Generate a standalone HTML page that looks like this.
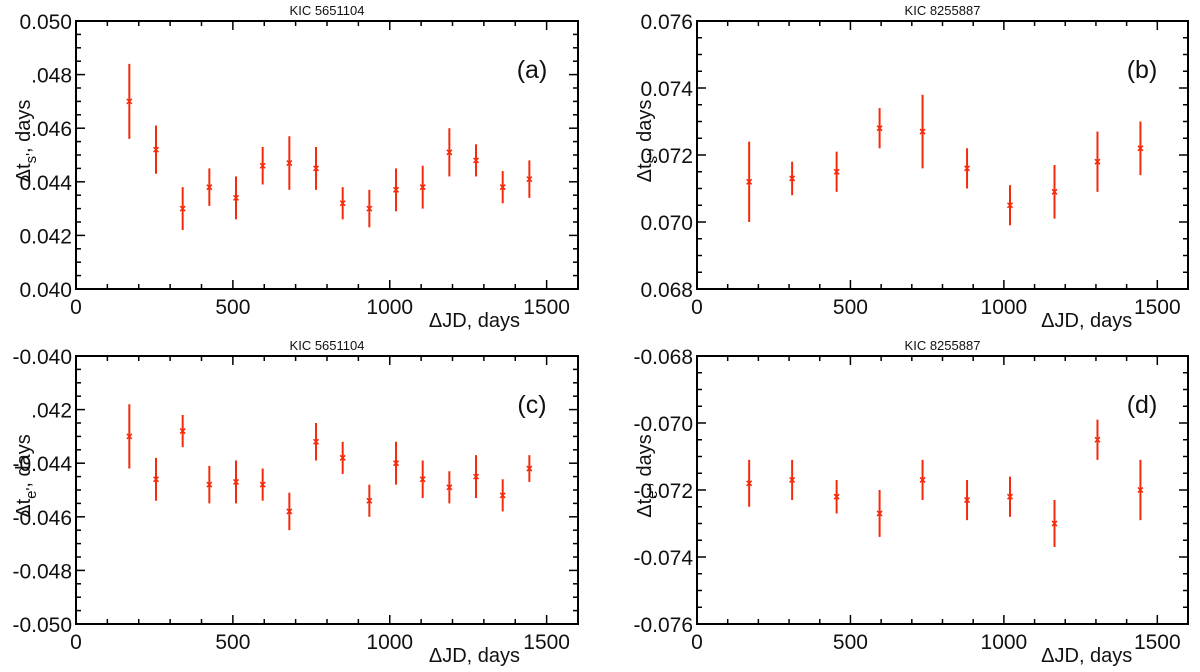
<!DOCTYPE html>
<html><head><meta charset="utf-8"><style>
body{margin:0;background:#fff;}
svg{display:block;font-family:"Liberation Sans","DejaVu Sans",sans-serif;}
</style></head><body>
<svg id="fig" width="1200" height="672" viewBox="0 0 1200 672"></svg>
<script>
const xA=[170,255,340,425,510,595,680,765,850,935,1020,1105,1190,1275,1360,1445];
const xB=[170,310,455,595,735,880,1020,1165,1305,1445];
const valA=[0.0470,0.0452,0.0430,0.0438,0.0434,0.0446,0.0447,0.0445,0.0432,0.0430,0.0437,0.0438,0.0451,0.0448,0.0438,0.0441];
const errA=[0.0014,0.0009,0.0008,0.0007,0.0008,0.0007,0.0010,0.0008,0.0006,0.0007,0.0008,0.0008,0.0009,0.0006,0.0006,0.0007];
const valB=[0.0712,0.0713,0.0715,0.0728,0.0727,0.0716,0.0705,0.0709,0.0718,0.0722];
const errB=[0.0012,0.0005,0.0006,0.0006,0.0011,0.0006,0.0006,0.0008,0.0009,0.0008];
const valC=[-0.0430,-0.0446,-0.0428,-0.0448,-0.0447,-0.0448,-0.0458,-0.0432,-0.0438,-0.0454,-0.0440,-0.0446,-0.0449,-0.0445,-0.0452,-0.0442];
const errC=[0.0012,0.0008,0.0006,0.0007,0.0008,0.0006,0.0007,0.0007,0.0006,0.0006,0.0008,0.0007,0.0006,0.0008,0.0006,0.0005];
const valD=[-0.0718,-0.0717,-0.0722,-0.0727,-0.0717,-0.0723,-0.0722,-0.0730,-0.0705,-0.0720];
const errD=[0.0007,0.0006,0.0005,0.0007,0.0006,0.0006,0.0006,0.0007,0.0006,0.0009];
const xTicks=["0","500","1000","1500"];
const yTicksA=["0.040","0.042","0.044",".046",".048","0.050"];
const yTicksB=["0.068","0.070","0.072","0.074","0.076"];
const yTicksC=["-0.050","-0.048","-0.046","-0.044",".042","-0.040"];
const yTicksD=["-0.076","-0.074","-0.072","-0.070","-0.068"];

const NS="http://www.w3.org/2000/svg";
const svg=document.getElementById('fig');
function mk(tag,attrs,parent,text){const e=document.createElementNS(NS,tag);for(const k in attrs)e.setAttribute(k,attrs[k]);if(text!==undefined)e.textContent=text;parent.appendChild(e);return e;}

function panel(o){
  const g=mk('g',{},svg);
  
  
  const sx=v=>o.x0+(v-0)/(1600)*(o.x1-o.x0);
  const sy=v=>o.yb-(v-o.ymin)/(o.ymax-o.ymin)*(o.yb-o.yt);
  for(let v=0;v<=1600;v+=100){
    const maj=v%500===0, L=maj?9:5, X=sx(v);
    mk('line',{x1:X,y1:o.yb,x2:X,y2:o.yb-L,stroke:'#000','stroke-width':1.5},g);
    mk('line',{x1:X,y1:o.yt,x2:X,y2:o.yt+L,stroke:'#000','stroke-width':1.5},g);
  }
  const ny=Math.round((o.ymax-o.ymin)/0.0005);
  for(let i=0;i<=ny;i++){
    const v=o.ymin+i*0.0005, maj=i%4===0, L=maj?9:5, Y=sy(v);
    mk('line',{x1:o.x0,y1:Y,x2:o.x0+L,y2:Y,stroke:'#000','stroke-width':1.5},g);
    mk('line',{x1:o.x1,y1:Y,x2:o.x1-L,y2:Y,stroke:'#000','stroke-width':1.5},g);
  }
  const box=mk('rect',{x:o.x0,y:o.yt,width:o.x1-o.x0,height:o.yb-o.yt,fill:'none',stroke:'#000','stroke-width':2},g);
  
  
  xTicks.forEach((t,i)=>{
    const tx=mk('text',{x:sx(i*500),y:o.yb+25,'font-size':21,'text-anchor':'middle',fill:'#111'},g,t);
    
    
  });
  o.yTicks.forEach((t,i)=>{
    const ty=mk('text',{x:o.x0-4,y:sy(o.ymin+i*0.002)+8,'font-size':21,'text-anchor':'end',fill:'#111'},g,t);
    
    
  });
  const xt=mk('text',{x:sx(1270),y:o.yb+38,'font-size':20,'text-anchor':'middle',fill:'#111'},g,'ΔJD, days');
  
  
  const yt=mk('text',{transform:`translate(${o.x0-46},${(o.yt+o.yb)/2-14}) rotate(-90)`,'font-size':20,'text-anchor':'middle',fill:'#111'},g);
  
  
  mk('tspan',{},yt,'Δt');
  mk('tspan',{'font-size':15,dy:6},yt,o.sub);
  mk('tspan',{dy:-6},yt,', days');
  const ti=mk('text',{x:(o.x0+o.x1)/2,y:o.yt-6,'font-size':13,'text-anchor':'middle',fill:'#111'},g,o.title);
  
  
  const lb=mk('text',{x:o.x1-46,y:o.yt+57,'font-size':25,'text-anchor':'middle',fill:'#111'},g,'('+o.id+')');
  
  
  o.xs.forEach((xv,i)=>{
    const X=sx(xv), Y=sy(o.vals[i]);
    const eb=mk('line',{x1:X,y1:sy(o.vals[i]-o.errs[i]),x2:X,y2:sy(o.vals[i]+o.errs[i]),stroke:'#f52a0a','stroke-width':2},g);
    
    
    const p=mk('path',{d:`M${X-2.5},${Y-2.5}L${X+2.5},${Y+2.5}M${X-2.5},${Y+2.5}L${X+2.5},${Y-2.5}`,stroke:'#f52a0a','stroke-width':1.5},g);
    
    
  });
}
panel({id:'a',x0:76,x1:578,yt:21,yb:289,ymin:0.040,ymax:0.050,yTicks:yTicksA,xs:xA,vals:valA,errs:errA,sub:'s\'',title:'KIC 5651104'});
panel({id:'b',x0:697,x1:1188,yt:21,yb:289,ymin:0.068,ymax:0.076,yTicks:yTicksB,xs:xB,vals:valB,errs:errB,sub:'s\'',title:'KIC 8255887'});
panel({id:'c',x0:76,x1:578,yt:356,yb:624,ymin:-0.050,ymax:-0.040,yTicks:yTicksC,xs:xA,vals:valC,errs:errC,sub:'e\'',title:'KIC 5651104'});
panel({id:'d',x0:697,x1:1188,yt:356,yb:624,ymin:-0.076,ymax:-0.068,yTicks:yTicksD,xs:xB,vals:valD,errs:errD,sub:'e\'',title:'KIC 8255887'});
</script>
</body></html>
